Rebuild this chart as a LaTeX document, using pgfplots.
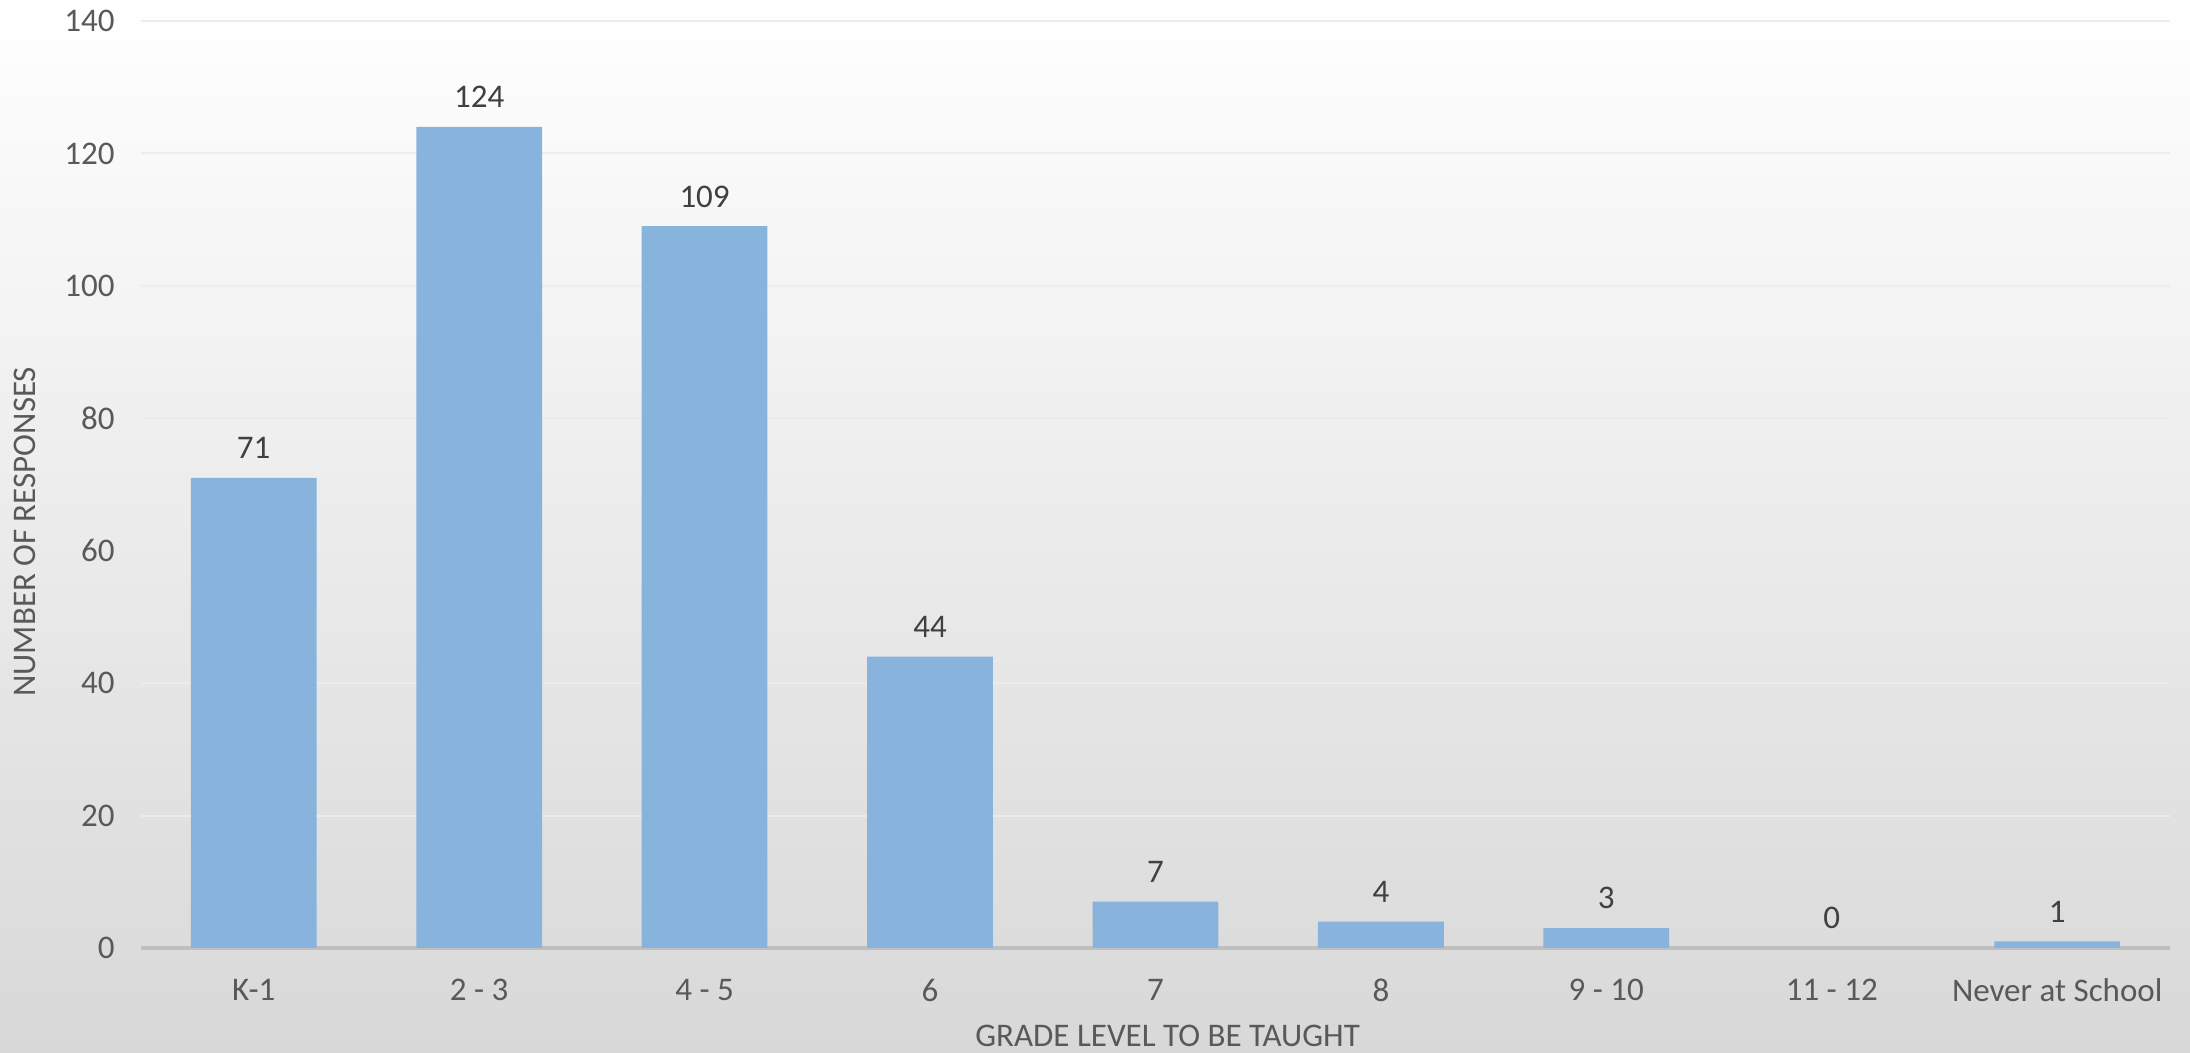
\documentclass[border=0pt]{standalone}
\usepackage{pgfplots}
\pgfplotsset{compat=1.18}
\usepackage{fontspec}
\setmainfont{Carlito}
\definecolor{tickc}{HTML}{595959}
\definecolor{labc}{HTML}{404040}
\definecolor{barc}{HTML}{88B3DD}
\definecolor{gridc}{HTML}{ECECEC}
\definecolor{axc}{HTML}{BFBFBF}
\definecolor{bgbot}{HTML}{D8D8D8}
\begin{document}
\begin{tikzpicture}
\shade[top color=white, bottom color=bgbot] (0,0) rectangle (1095pt,526.5pt);
\begin{axis}[
  at={(70.5pt,52.5pt)}, anchor=south west,
  scale only axis, width=1014.5pt, height=463.5pt,
  xmin=-0.5, xmax=8.5, ymin=0, ymax=140,
  ytick={0,20,...,140},
  xtick={0,...,8},
  xticklabels={K-1,2 - 3,4 - 5,6,7,8,9 - 10,11 - 12,Never at School},
  /pgf/number format/assume math mode=true,
  axis x line*=bottom, axis y line*=left,
  x axis line style={draw=axc, line width=1.8pt},
  y axis line style={draw=none},
  major tick length=0pt,
  ymajorgrids, grid style={draw=gridc, line width=1pt},
  tick label style={font=\fontsize{16.5}{19}\selectfont, text=tickc},
  xticklabel style={anchor=center, yshift=-21pt},
  yticklabel style={anchor=east, inner sep=0pt, xshift=-13pt},
  ylabel={NUMBER OF RESPONSES},
  xlabel={GRADE LEVEL TO BE TAUGHT},
  every axis y label/.style={at={(rel axis cs:0,0.449)}, xshift=-58pt, rotate=90, anchor=center, font=\fontsize{16.5}{19}\selectfont, text=tickc},
  every axis x label/.style={at={(rel axis cs:0.506,0)}, yshift=-44pt, anchor=center, font=\fontsize{16.5}{19}\selectfont, text=tickc},
  ybar, bar width=62.9pt,
  nodes near coords,
  nodes near coords style={font=\fontsize{16.5}{19}\selectfont, text=labc, anchor=south, inner sep=0pt, yshift=9.3pt},
]
\addplot[fill=barc, draw=none] coordinates {
(0,71) (1,124) (2,109) (3,44) (4,7) (5,4) (6,3) (7,0) (8,1)
};
\end{axis}
\pgfresetboundingbox
\path (0,0) rectangle (1095pt,526.5pt);
\end{tikzpicture}
\end{document}
